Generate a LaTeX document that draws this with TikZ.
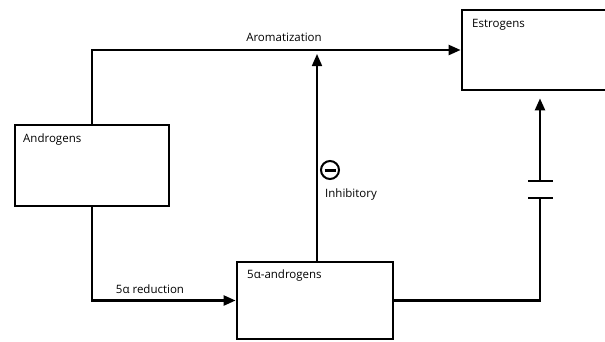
\documentclass[tikz,border=0pt]{standalone}
\usepackage{fontspec}
\setmainfont{Open Sans}
\usetikzlibrary{arrows.meta,calc}

\begin{document}
\begin{tikzpicture}[x=1pt,y=-1pt,>={Triangle[length=12pt,width=10pt]},font=\fontsize{11.5}{13}\selectfont,
  box/.style={draw,line width=2.8pt,rectangle,inner sep=0pt},
  boxlabel/.style={anchor=base west,inner sep=0pt},
  edgelabel/.style={anchor=base,inner sep=0pt},
  conn/.style={line width=2.4pt}]

  \useasboundingbox (0,0) rectangle (605,341);
  \clip (0,0) rectangle (605,341);

  \node[box,minimum width=154pt,minimum height=81pt] (andro) at (92,165.5) {};
  \node[box,minimum width=150pt,minimum height=80pt] (estro) at (537,50) {};
  \node[box,minimum width=156pt,minimum height=77pt] (five)  at (315,300.5) {};

  \node[boxlabel] (androtxt) at (23,142) {Androgens};
  \node[boxlabel] (estrotxt) at (472,27) {Estrogens};
  \node[boxlabel] (fivetxt)  at (247,278) {5α-androgens};

  \coordinate (plo) at (540,198);
  \coordinate (phi) at (540,181);

  % aromatization and 5a reduction
  \draw[conn,->] (andro.north) |- (estro.west);
  \node[edgelabel] (arom) at (284,41.5) {Aromatization};
  \draw[conn,->] (andro.south) |- (five.west);
  \node[edgelabel] (red) at (150,293) {5α reduction};

  % inhibition
  \draw[line width=1.7pt,->,shorten >=4pt] ([xshift=2pt]five.north) -- ([xshift=2pt]five.north |- estro.west);
  \node[draw,circle,line width=2pt,minimum size=18pt,inner sep=0pt] (minus) at (330,170) {};
  \draw[line width=3pt] ([xshift=-5.5pt]minus.center) -- ([xshift=5.5pt]minus.center);
  \node[boxlabel] (inh) at (325,197) {Inhibitory};

  % blocked path
  \draw[conn] (five.east) -| (plo);
  \draw[conn] ([xshift=-12pt]plo) -- ([xshift=13pt]plo);
  \draw[conn] ([xshift=-12pt]phi) -- ([xshift=13pt]phi);
  \draw[conn,->,shorten >=7pt] (phi) -- (phi |- estro.south);
\end{tikzpicture}
\end{document}
